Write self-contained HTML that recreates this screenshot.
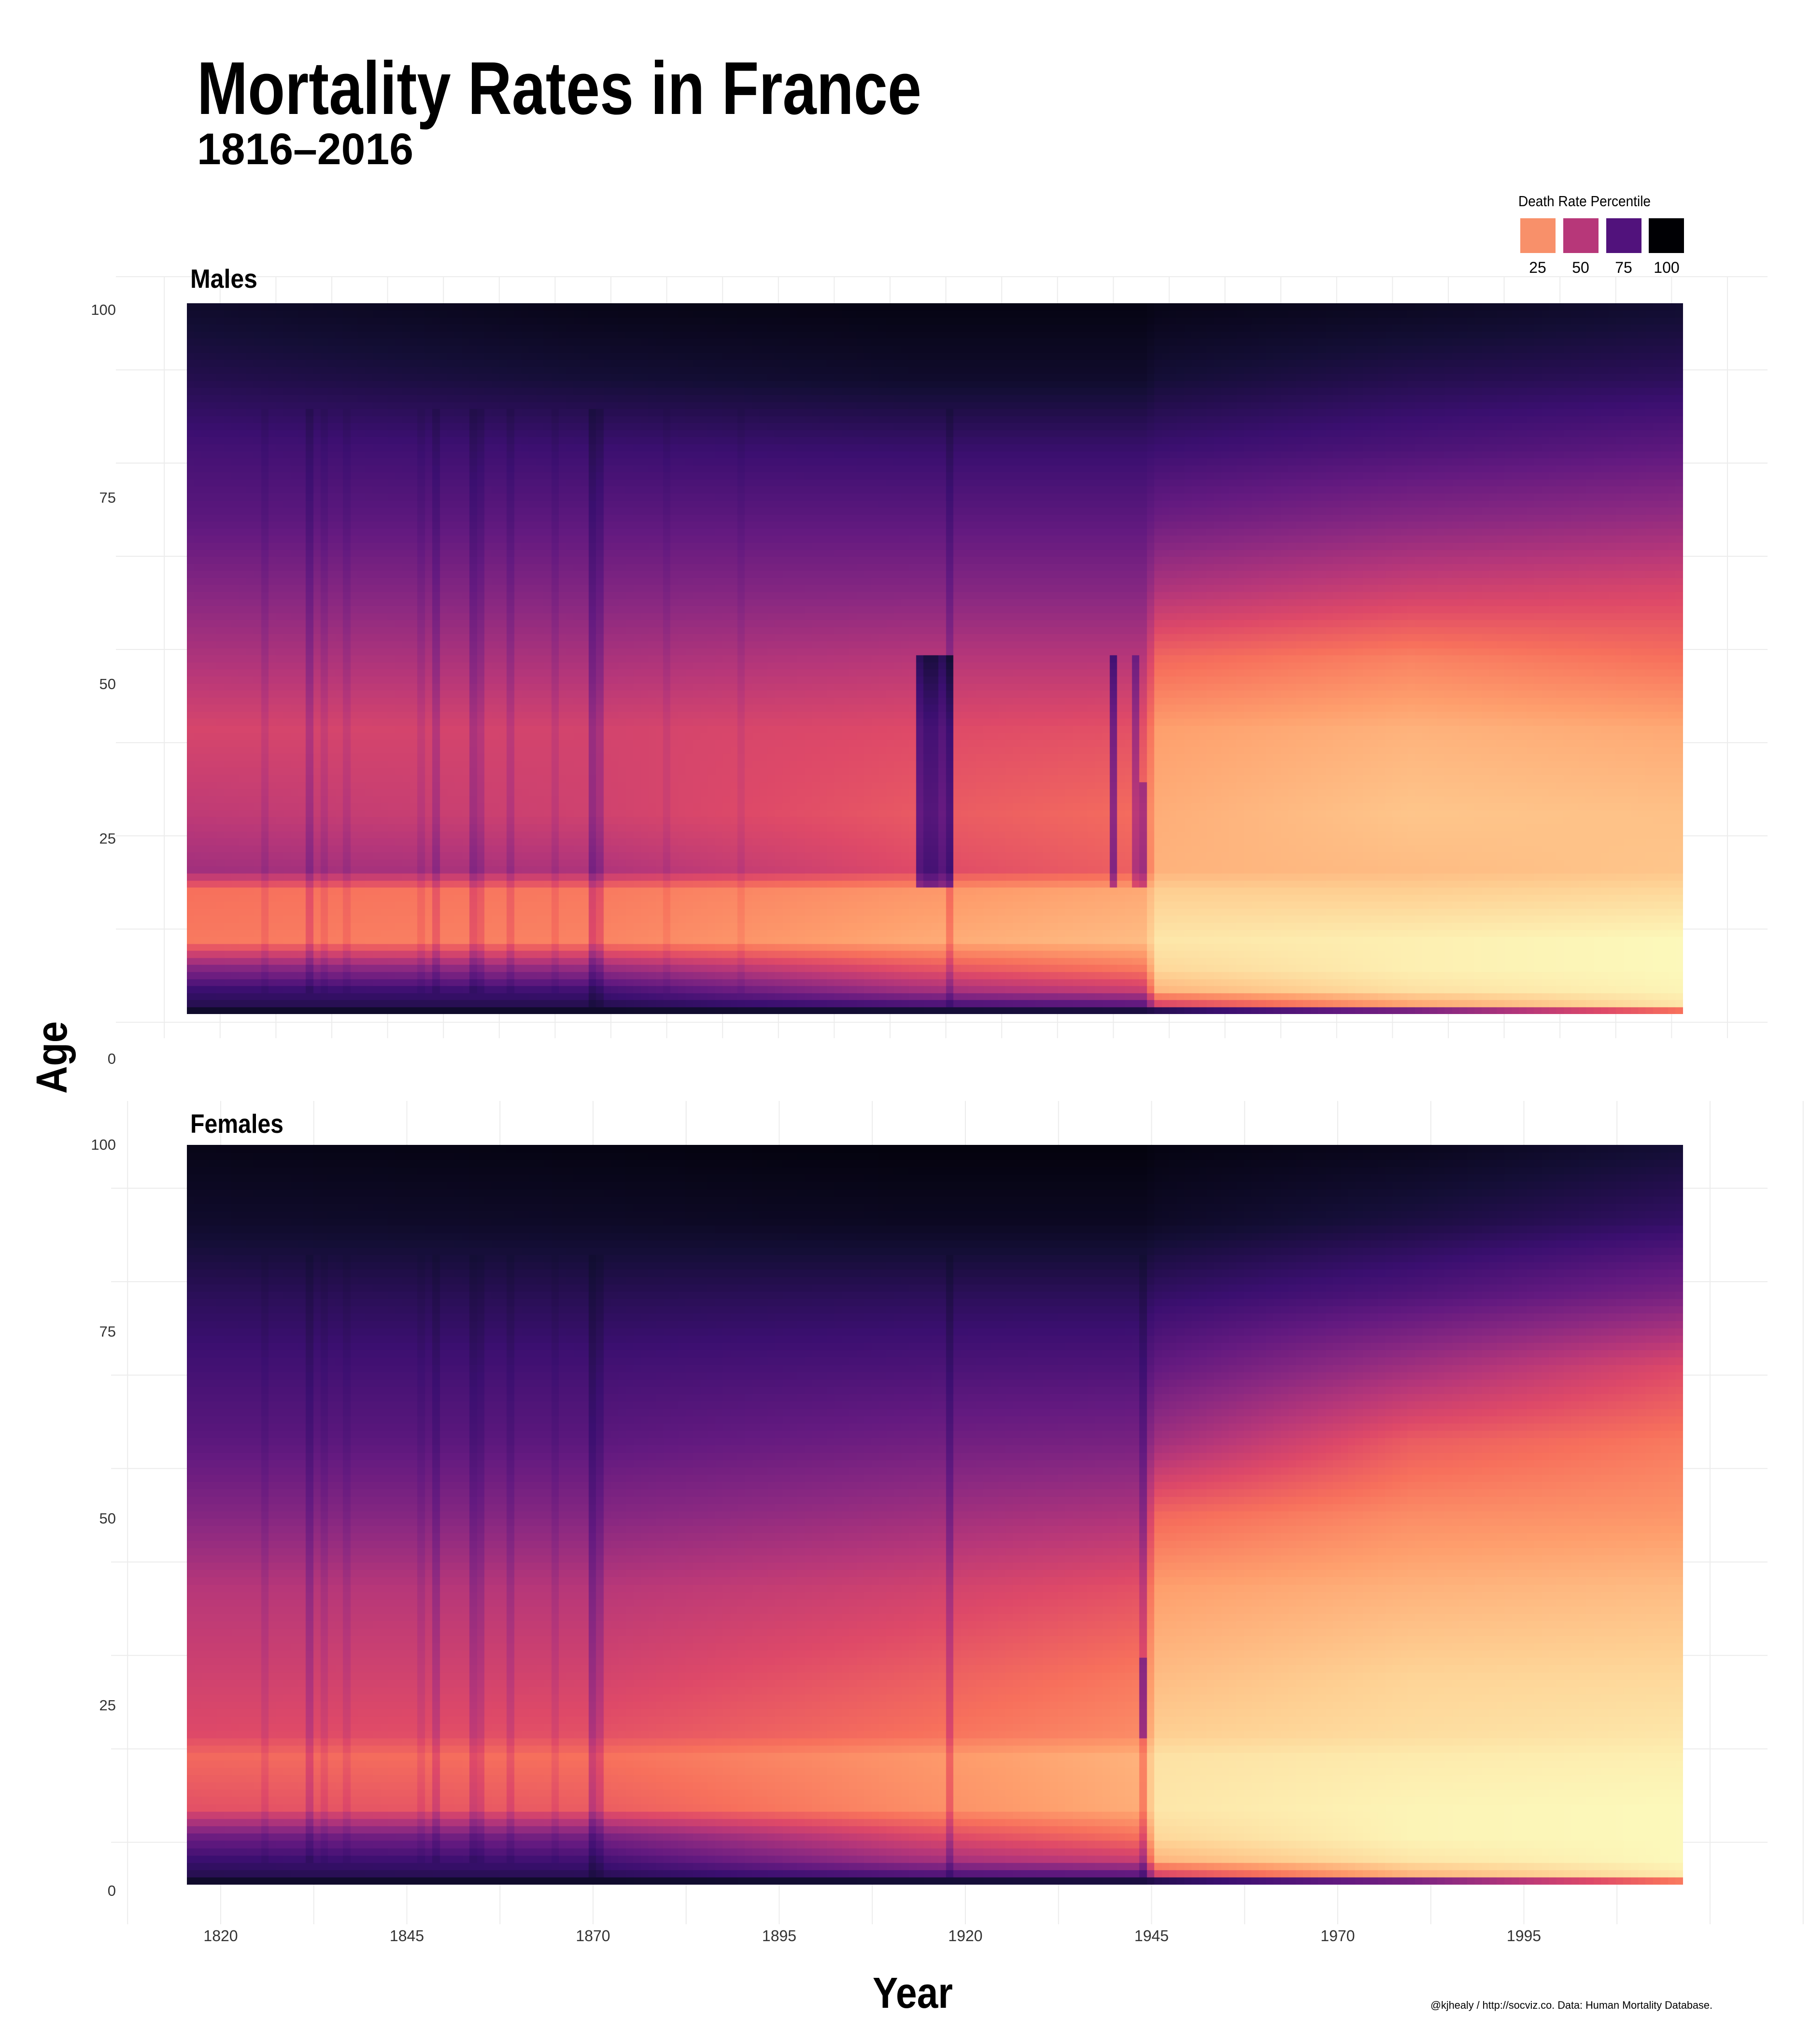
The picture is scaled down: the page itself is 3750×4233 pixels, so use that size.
<!DOCTYPE html>
<html><head><meta charset="utf-8">
<style>
html,body{margin:0;padding:0;background:#fff;}
body{width:3750px;height:4233px;position:relative;overflow:hidden;font-family:"Liberation Sans Narrow","Liberation Sans",sans-serif;}
canvas{position:absolute;}
svg{position:absolute;left:0;top:0;}
</style></head>
<body>
<svg width="3750" height="4233" viewBox="0 0 3750 4233">
<g id="grid" stroke="#ececec" stroke-width="2"></g>
<g font-family="Liberation Sans Narrow, Liberation Sans, sans-serif" fill="#000">
<text x="408" y="236" font-size="155" font-weight="bold" textLength="1500" lengthAdjust="spacingAndGlyphs">Mortality Rates in France</text>
<text x="408" y="340" font-size="92" font-weight="bold" textLength="448" lengthAdjust="spacingAndGlyphs">1816–2016</text>
<text x="3144" y="427" font-size="31" textLength="274" lengthAdjust="spacingAndGlyphs">Death Rate Percentile</text>
<rect x="3148" y="452" width="73" height="72" fill="#f8906a"/>
<rect x="3237" y="452" width="73" height="72" fill="#b73779"/>
<rect x="3326" y="452" width="73" height="72" fill="#51127c"/>
<rect x="3414" y="452" width="73" height="72" fill="#000004"/>
<g font-size="32" text-anchor="middle">
<text x="3184" y="565">25</text>
<text x="3273" y="565">50</text>
<text x="3362" y="565">75</text>
<text x="3451" y="565">100</text>
</g>
<text x="394" y="596" font-size="55" font-weight="bold" textLength="139" lengthAdjust="spacingAndGlyphs">Males</text>
<text x="394" y="2346" font-size="55" font-weight="bold" textLength="193" lengthAdjust="spacingAndGlyphs">Females</text>
<g id="yticks" font-size="31" fill="#333" text-anchor="end"></g>
<g id="xticks" font-size="32" fill="#333" text-anchor="middle"></g>
<text x="1890" y="4158" font-size="90" font-weight="bold" text-anchor="middle" textLength="166" lengthAdjust="spacingAndGlyphs">Year</text>
<text transform="translate(138,2190) rotate(-90)" font-size="90" font-weight="bold" text-anchor="middle" textLength="150" lengthAdjust="spacingAndGlyphs">Age</text>
<text x="2962" y="4160" font-size="22" textLength="584" lengthAdjust="spacingAndGlyphs">@kjhealy / http://socviz.co. Data: Human Mortality Database.</text>
</g>
</svg>
<canvas id="males" width="3098" height="1472" style="left:387px;top:628px"></canvas>
<canvas id="females" width="3098" height="1532" style="left:387px;top:2371px"></canvas>
<script>
// ---- data ----
const firstYear = 1816;
const lastYear = 2016;
const profileYears = [1816, 1870, 1913, 1944, 1946, 1980, 2016];
const profileAges = [0, 1, 3, 6, 10, 17, 20, 28, 40, 50, 60, 70, 80, 90, 100];
const malesProfiles = [
  [92, 85, 80, 62, 28, 30, 55, 48, 42, 52, 62, 72, 78, 86, 92],
  [92, 85, 78, 58, 26, 28, 52, 44, 43, 53, 63, 72, 80, 90, 96],
  [90, 75, 55, 38, 18, 22, 40, 36, 40, 50, 62, 72, 81, 92, 97],
  [88, 70, 45, 28, 14, 18, 34, 31, 38, 50, 62, 72, 81, 92, 97],
  [85, 40, 15, 8, 5, 10, 16, 17, 20, 32, 52, 68, 80, 90, 96],
  [65, 18, 6, 3, 3, 10, 14, 12, 16, 26, 45, 62, 76, 86, 94],
  [30, 5, 2, 1, 1, 8, 12, 13, 18, 30, 42, 58, 72, 84, 91]
];
const femalesProfiles = [
  [92, 85, 80, 68, 38, 32, 40, 44, 50, 62, 72, 78, 84, 92, 96],
  [92, 84, 78, 66, 35, 30, 38, 43, 50, 62, 72, 78, 85, 93, 97],
  [90, 74, 55, 42, 24, 22, 30, 35, 44, 56, 67, 76, 84, 94, 98],
  [88, 70, 45, 30, 17, 16, 24, 28, 38, 52, 65, 75, 84, 94, 98],
  [85, 40, 15, 8, 5, 6, 10, 14, 20, 32, 55, 70, 82, 93, 97],
  [65, 15, 5, 2, 2, 4, 7, 9, 16, 24, 35, 55, 75, 88, 95],
  [28, 4, 1, 1, 1, 3, 5, 8, 14, 22, 28, 40, 65, 82, 90]
];
// crisis years: year, age range, added percentile
const malesCrisisYears = [1826, 1832, 1834, 1837, 1847, 1849, 1854, 1855, 1859, 1865, 1870, 1871, 1880, 1890, 1914, 1915, 1916, 1917, 1918, 1918, 1940, 1943, 1944];
const malesCrisisAgeMin = [3, 3, 3, 3, 3, 3, 3, 3, 3, 3, 1, 1, 3, 3, 18, 18, 18, 18, 18, 1, 18, 18, 18];
const malesCrisisAgeMax = [85, 85, 85, 85, 85, 85, 85, 85, 85, 85, 85, 85, 85, 85, 50, 50, 50, 50, 50, 85, 50, 50, 32];
const malesCrisisDelta = [4, 9, 4, 4, 4, 8, 10, 7, 6, 4, 14, 10, 3, 3, 34, 38, 38, 34, 30, 10, 28, 18, 22];
const femalesCrisisYears = [1826, 1832, 1834, 1837, 1847, 1849, 1854, 1855, 1859, 1865, 1870, 1871, 1918, 1944, 1944];
const femalesCrisisAgeMin = [3, 3, 3, 3, 3, 3, 3, 3, 3, 3, 1, 1, 1, 1, 20];
const femalesCrisisAgeMax = [85, 85, 85, 85, 85, 85, 85, 85, 85, 85, 85, 85, 85, 85, 30];
const femalesCrisisDelta = [4, 9, 4, 4, 4, 8, 9, 7, 6, 4, 14, 9, 12, 10, 22];
const magmaStops = ["#000004","#140e36","#3b0f70","#641a80","#8c2981","#b73779","#de4968","#f7705c","#fe9f6d","#fecf92","#fcfdbf"];
const yTickLabels = ["100", "75", "50", "25", "0"];
const xTickYears = [1820, 1845, 1870, 1895, 1920, 1945, 1970, 1995];

// ---- scales ----
function hex(c){return [parseInt(c.slice(1,3),16),parseInt(c.slice(3,5),16),parseInt(c.slice(5,7),16)];}
const stopsRGB = magmaStops.map(hex);
function colorFor(p){
  let t = 1 - Math.max(0, Math.min(100, p)) / 100;
  const f = t * (stopsRGB.length - 1), i = Math.min(stopsRGB.length - 2, Math.floor(f)), r = f - i;
  const a = stopsRGB[i], b = stopsRGB[i + 1];
  return `rgb(${Math.round(a[0]+(b[0]-a[0])*r)},${Math.round(a[1]+(b[1]-a[1])*r)},${Math.round(a[2]+(b[2]-a[2])*r)})`;
}
function interp(xs, ys, x){
  if (x <= xs[0]) return ys[0];
  for (let i = 1; i < xs.length; i++) if (x <= xs[i]) { const r = (x - xs[i-1]) / (xs[i] - xs[i-1]); return ys[i-1] + (ys[i] - ys[i-1]) * r; }
  return ys[ys.length - 1];
}
function percentile(profiles, cy, cmin, cmax, cd, year, age){
  const byYear = profiles.map(row => interp(profileAges, row, age));
  const base = interp(profileYears, byYear, year);
  let p = base;
  const taper = Math.min(1, Math.max(0, (95 - base) / 45));
  for (let k = 0; k < cy.length; k++) if (cy[k] === year && age >= cmin[k] && age <= cmax[k]) p += cd[k] * taper;
  return p;
}
function drawPanel(id, profiles, cy, cmin, cmax, cd){
  const cv = document.getElementById(id), ctx = cv.getContext('2d');
  const W = cv.width, H = cv.height, nY = lastYear - firstYear + 1, nA = 101;
  const xs = y => (y - firstYear) / nY * W;
  const ys = a => (100 - a) / nA * H;
  for (let y = firstYear; y <= lastYear; y++) {
    for (let a = 0; a <= 100; a++) {
      ctx.fillStyle = colorFor(percentile(profiles, cy, cmin, cmax, cd, y, a));
      const x0 = Math.floor(xs(y)), x1 = Math.ceil(xs(y + 1)), y0 = Math.floor(ys(a)), y1 = Math.ceil(ys(a - 1));
      ctx.fillRect(x0, y0, x1 - x0, y1 - y0);
    }
  }
}
drawPanel('males', malesProfiles, malesCrisisYears, malesCrisisAgeMin, malesCrisisAgeMax, malesCrisisDelta);
drawPanel('females', femalesProfiles, femalesCrisisYears, femalesCrisisAgeMin, femalesCrisisAgeMax, femalesCrisisDelta);

// ---- axes & grid ----
const NS = "http://www.w3.org/2000/svg";
const grid = document.getElementById('grid');
function line(x1,y1,x2,y2,name){
  const l = document.createElementNS(NS,'line');
  l.setAttribute('x1',x1);l.setAttribute('y1',y1);l.setAttribute('x2',x2);l.setAttribute('y2',y2);
  
  
  grid.appendChild(l);
}
for (let k = 0; k < 9; k++) line(240, 573 + 193 * k, 3660, 573 + 193 * k, 'males-gridline-h');
for (let x = 1843 - 115.6 * 14; x < 3670; x += 115.6) if (x > 230) line(x, 573, x, 2150, 'males-gridline-v');
for (let k = 0; k < 10; k++) { const y = 2364 + 193.5 * (k - 0.5); if (y > 2270 && y < 3990) line(230, y, 3660, y, 'females-gridline-h'); }
const xScale = yr => 457 + (yr - 1820) * 15.42;
for (let yr = 1807.5; yr < 2040; yr += 12.5) line(xScale(yr), 2280, xScale(yr), 3985, 'females-gridline-v');

const yt = document.getElementById('yticks');
const malesTickY = [641, 1030, 1416, 1736, 2192];
const femalesTickY = [2370, 2757, 3144, 3531, 3915];
function addText(g, x, y, s, name){
  const t = document.createElementNS(NS,'text');
  t.setAttribute('x',x);t.setAttribute('y',y);t.textContent = s;
  
  
  g.appendChild(t);
}
yTickLabels.forEach((s,i)=>{ addText(yt, 240, malesTickY[i]+11, s, 'males-y-tick-label'); addText(yt, 240, femalesTickY[i]+11, s, 'females-y-tick-label'); });
const xt = document.getElementById('xticks');
xTickYears.forEach(yr => addText(xt, xScale(yr), 4020, String(yr), 'x-tick-label'));
</script>
</body></html>
